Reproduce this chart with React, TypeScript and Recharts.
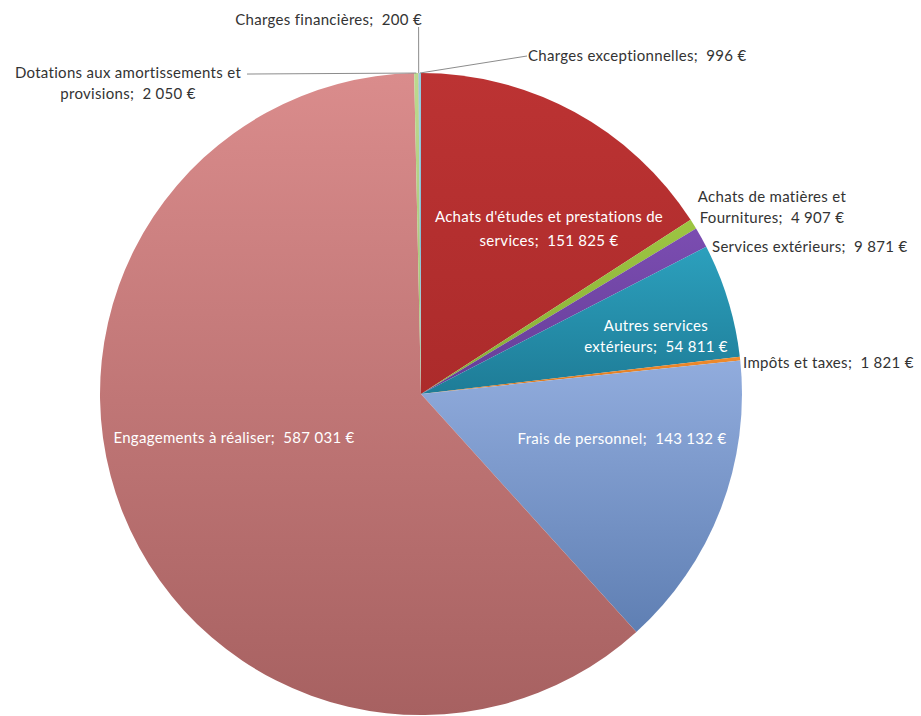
import React from 'react';
import { PieChart, Pie, Cell } from 'recharts';

// ---- Data ----
const categories = [
  "Achats d'études et prestations de services",
  'Achats de matières et Fournitures',
  'Services extérieurs',
  'Autres services extérieurs',
  'Impôts et taxes',
  'Frais de personnel',
  'Engagements à réaliser',
  'Dotations aux amortissements et provisions',
  'Charges financières',
  'Charges exceptionnelles',
];
const values = [151825, 4907, 9871, 54811, 1821, 143132, 587031, 2050, 200, 996];

// ---- Styles ----
const colorsTop = ['#BC3333', '#9DC542', '#7B4DB1', '#2CA0BD', '#F08B2D', '#91ACDD', '#DA8C8C', '#BCD98E', '#A897C6', '#93CDE1'];
const colorsBottom = ['#AC2B2B', '#87AD37', '#653D97', '#1E7C97', '#D7771F', '#5F7FB3', '#A76161', '#A2C171', '#8C7AAE', '#72B3C9'];

// Label placement relative to the pie centre (px); firstLine = max chars on the first line
type Layout = { dx: number; dy: number; anchor: 'start' | 'middle' | 'end'; inside: boolean; firstLine: number; lh?: number; lx?: number; ly?: number };
const LABEL_LAYOUT: Layout[] = [
  { dx: 128, dy: -166, anchor: 'middle', inside: true, firstLine: 33, lh: 24 },
  { dx: 351, dy: -188, anchor: 'middle', inside: false, firstLine: 21 },
  { dx: 291, dy: -148, anchor: 'start', inside: false, firstLine: 100 },
  { dx: 235, dy: -59, anchor: 'middle', inside: true, firstLine: 16 },
  { dx: 322, dy: -32, anchor: 'start', inside: false, firstLine: 100 },
  { dx: 201, dy: 44, anchor: 'middle', inside: true, firstLine: 100 },
  { dx: -187, dy: 43, anchor: 'middle', inside: true, firstLine: 100 },
  { dx: -293, dy: -311.5, anchor: 'middle', inside: false, firstLine: 31, lx: -174, ly: -320 },
  { dx: 1, dy: -375, anchor: 'end', inside: false, firstLine: 100, lx: -2.4, ly: -367 },
  { dx: 107, dy: -339, anchor: 'start', inside: false, firstLine: 100, lx: 106, ly: -338 },
];

const data = categories.map((name, i) => ({ name, value: values[i] }));

const fmt = (v: number) => v.toString().replace(/\B(?=(\d{3})+(?!\d))/g, '\u00A0') + '\u00A0€';

function splitLabel(s: string, max: number): string[] {
  if (s.length <= max) return [s];
  const words = s.split(' ');
  let first = '';
  let i = 0;
  for (; i < words.length; i++) {
    const cand = first ? first + ' ' + words[i] : words[i];
    if (cand.length > max && first) break;
    first = cand;
  }
  const rest = words.slice(i).join(' ');
  return rest ? [first, rest] : [first];
}

const FONT = 'Lato, "Open Sans", sans-serif';

function renderLabel(props: any) {
  const { cx, cy, midAngle, outerRadius, index } = props;
  const L = LABEL_LAYOUT[index];
  const RAD = Math.PI / 180;
  const ex = cx + outerRadius * Math.cos(-midAngle * RAD);
  const ey = cy + outerRadius * Math.sin(-midAngle * RAD);
  const tx = cx + L.dx;
  const ty = cy + L.dy;
  const full = `${categories[index]};  ${fmt(values[index])}`;
  const lines = splitLabel(full, L.firstLine);
  const lh = L.lh ?? 21;
  const y0 = ty - ((lines.length - 1) * lh) / 2;
  return (
    <g key={`lbl-${index}`}>
      {L.lx !== undefined && L.ly !== undefined && (
        <polyline
          points={`${ex},${ey} ${cx + L.lx},${index === 7 ? ey + 1 : cy + L.ly}`}
          fill="none"
          stroke="#8C8C8C"
          strokeWidth={1}
        />
      )}
      <text
        x={tx}
        y={y0}
        textAnchor={L.anchor}
        dominantBaseline="central"
        fill={L.inside ? '#FFFFFF' : '#333333'}
        fontFamily={FONT}
        fontSize={15}
        letterSpacing={0.3}
        style={{ whiteSpace: 'pre' }}
      >
        {lines.map((ln, i) => (
          <tspan key={i} x={tx} y={y0 + i * lh}>
            {ln}
          </tspan>
        ))}
      </text>
    </g>
  );
}

export default function App() {
  return (
    <div style={{ width: 921, height: 716, background: '#FFFFFF', position: 'relative' }}>
      <style>{'body{margin:0;}'}</style>
      <svg width={0} height={0} style={{ position: 'absolute' }}>
        <defs>
          {colorsTop.map((c, i) => (
            <linearGradient key={i} id={`grad${i}`} x1="0" y1="0" x2="0" y2="1">
              <stop offset="0%" stopColor={c} />
              <stop offset="100%" stopColor={colorsBottom[i]} />
            </linearGradient>
          ))}
        </defs>
      </svg>
      <PieChart width={921} height={716} margin={{ top: 0, right: 0, bottom: 0, left: 0 }}>
        <Pie
          data={data}
          dataKey="value"
          nameKey="name"
          cx={421}
          cy={394}
          outerRadius={321}
          startAngle={90}
          endAngle={-270}
          stroke="none"
          labelLine={false}
          label={renderLabel}
          isAnimationActive={false}
        >
          {data.map((_, i) => (
            <Cell key={i} fill={`url(#grad${i})`} />
          ))}
        </Pie>
      </PieChart>
    </div>
  );
}
